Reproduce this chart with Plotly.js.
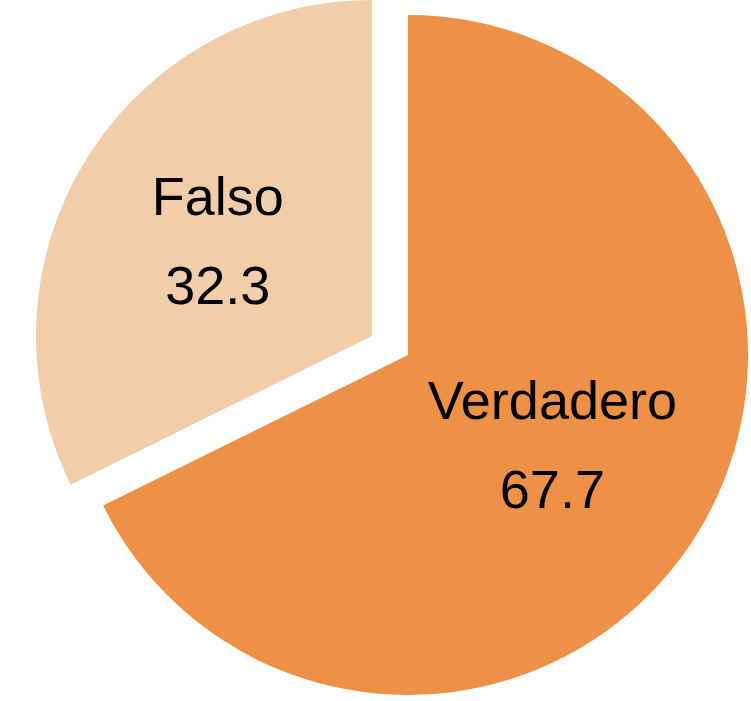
<!DOCTYPE html>
<html>
<head>
<meta charset="utf-8">
<script src="https://cdn.plot.ly/plotly-3.0.1.min.js"></script>
<style>html,body{margin:0;padding:0;background:#fff;}#chart{width:751px;height:701px;}</style>
</head>
<body>
<div id="chart"></div>
<script>
// Data
var labels = ["Verdadero", "Falso"];
var values = [67.7, 32.3];
var sliceColors = ["#EC9146", "#F2CDAA"];

var W = 751, H = 701;
function dom(cx, cy, r) {
  return {x: [(cx - r) / W, (cx + r) / W], y: [1 - (cy + r) / H, 1 - (cy - r) / H]};
}
var hidden = "rgba(0,0,0,0)";
function makeTrace(showIdx, d) {
  return {
    type: "pie",
    labels: labels,
    values: values,
    sort: false,
    direction: "clockwise",
    rotation: 0,
    domain: d,
    marker: {
      colors: sliceColors.map(function (c, i) { return i === showIdx ? c : hidden; }),
      line: {width: 0}
    },
    texttemplate: labels.map(function (l, i) { return i === showIdx ? "%{label}<br>%{value}" : ""; }),
    textposition: labels.map(function (l, i) { return i === showIdx ? "inside" : "none"; }),
    insidetextorientation: "horizontal",
    textfont: {
      family: "Liberation Sans, Arial, sans-serif",
      size: 54,
      color: "#000"
    },
    hoverinfo: "skip",
    showlegend: false
  };
}

var data = [
  makeTrace(0, dom(408, 355, 340)),
  makeTrace(1, dom(372, 336, 336))
];

var layout = {
  width: W, height: H,
  margin: {l: 0, r: 0, t: 0, b: 0},
  paper_bgcolor: "#fff",
  showlegend: false
};

Plotly.newPlot("chart", data, layout, {displayModeBar: false, staticPlot: true}).then(function () {
  // widen line spacing of the slice labels, keeping them centred
  document.querySelectorAll("#chart .slicetext text").forEach(function (t) {
    var lines = t.querySelectorAll("tspan.line");
    var n = lines.length;
    if (n < 2) return;
    var f = 1.65 / 1.3;
    var shift = (n - 1) * (1.65 - 1.3) / 2;
    lines.forEach(function (ln) {
      var dy = parseFloat(ln.getAttribute("dy") || "0");
      ln.setAttribute("dy", (dy * f - shift) + "em");
    });
  });
});
</script>
</body>
</html>
